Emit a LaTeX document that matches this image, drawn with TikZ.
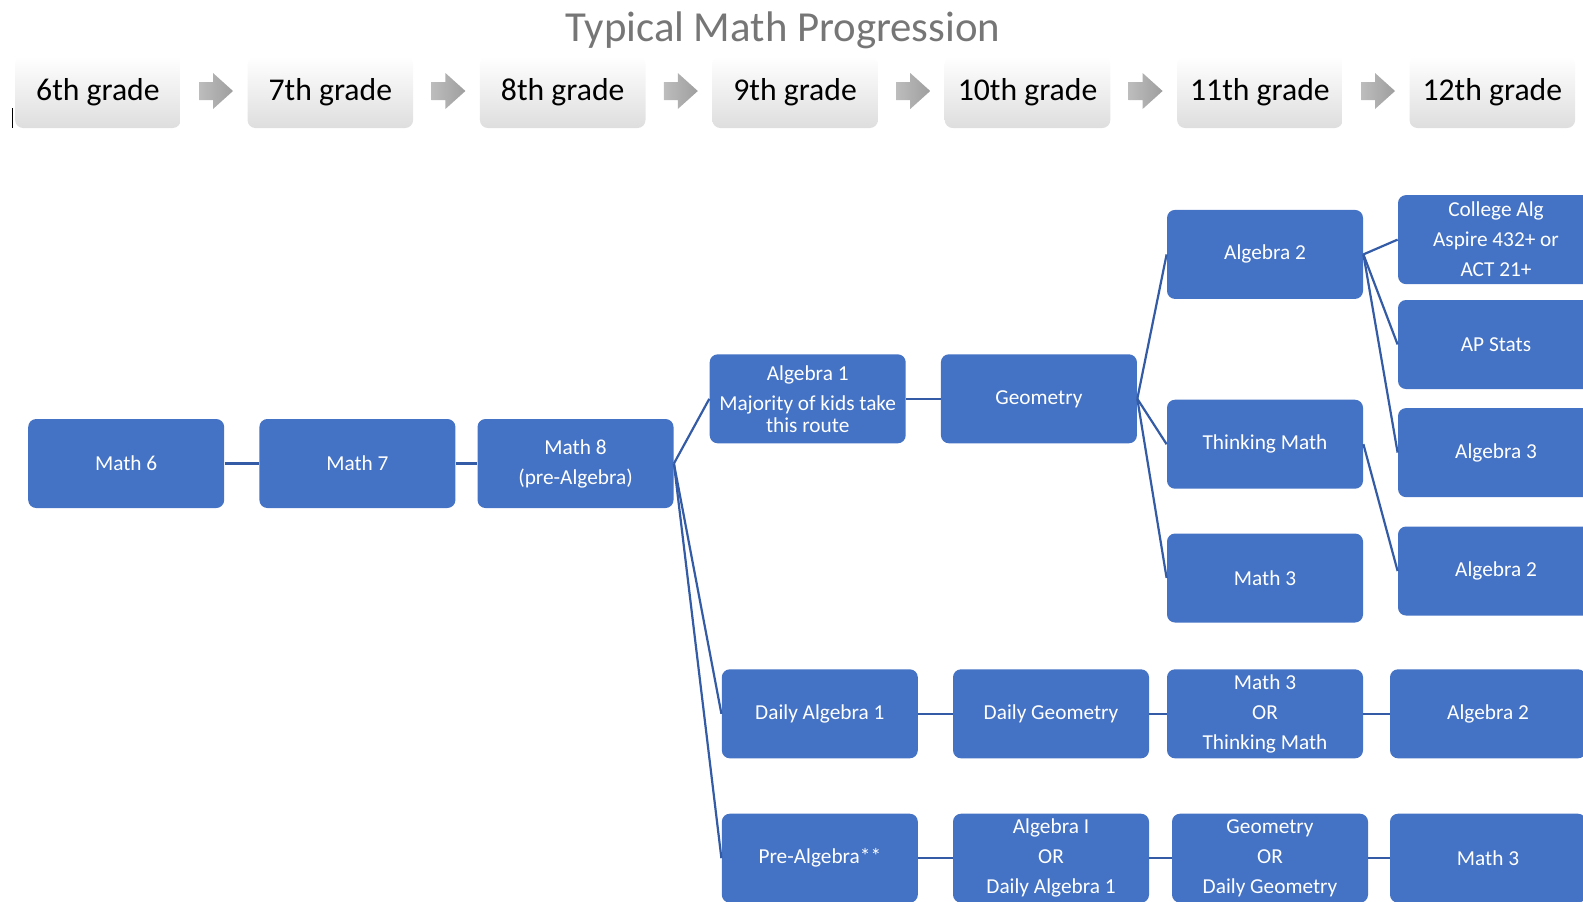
\documentclass[tikz,border=0pt]{standalone}
\usepackage{fontspec}
\setmainfont{Carlito}
\usetikzlibrary{positioning}
\definecolor{cblue}{RGB}{68,114,196}
\definecolor{clink}{RGB}{52,92,166}
\definecolor{ctitle}{RGB}{118,118,118}
\tikzset{cn/.style={fill=cblue,rounded corners=4pt,text=white,align=center,minimum width=98pt,minimum height=44.5pt,inner sep=2pt,font=\fontsize{10.65}{15}\selectfont},
  gr/.style={rounded corners=4pt,top color=white,middle color=white,bottom color=black!13,minimum width=82.8pt,minimum height=36pt,inner sep=0pt,font=\fontsize{15.85}{19}\selectfont},
  ln/.style={draw=clink,line width=1.1pt}}
\newcommand{\gradearrow}[1]{\begin{scope}[shift={(#1,0)}]
  \shade[left color=black!26,right color=black!38] (0,82)--(14,82)--(14,73)--(34,91)--(14,109)--(14,100)--(0,100)--cycle;
\end{scope}}

\begin{document}
\begin{tikzpicture}[x=0.5pt,y=-0.5pt]
    \useasboundingbox (0,0) rectangle (1583,901);
    \clip (0,0) rectangle (1583,901);
    \node[text=ctitle,font=\fontsize{21.4}{25}\selectfont] (title) at (783,30) {Typical Math Progression};
    % grade header
    \node[gr] (g6) at (97.9,92) {6th grade};
    \node[gr] (g7) at (330.3,92) {7th grade};
    \node[gr] (g8) at (562.7,92) {8th grade};
    \node[gr] (g9) at (795.1,92) {9th grade};
    \node[gr] (g10) at (1027.5,92) {10th grade};
    \node[gr] (g11) at (1259.9,92) {11th grade};
    \node[gr] (g12) at (1492.3,92) {12th grade};
    \gradearrow{199}\gradearrow{431.4}\gradearrow{663.8}
    \gradearrow{896.2}\gradearrow{1128.6}\gradearrow{1361}
    \draw[line width=0.5pt] (12,108)--(12,128);
    % courses
    \node[cn] (m6) at (126.2,463.5) {Math 6};
    \node[cn] (m7) at (357.4,463.5) {Math 7};
    \node[cn] (m8) at (575.5,463.5) {Math 8\\(pre-Algebra)};
    \node[cn] (a1) at (807.7,398.8) {Algebra 1\\Majority of kids take\\[-4pt]this route};
    \node[cn] (geo) at (1038.9,398.8) {Geometry};
    \node[cn] (a2) at (1265,254.4) {Algebra 2};
    \node[cn] (tm) at (1265,444.2) {Thinking Math};
    \node[cn] (m3) at (1265,578) {Math 3};
    \node[cn] (ca) at (1496,239.6) {College Alg\\Aspire 432+ or\\ACT 21+};
    \node[cn] (aps) at (1496,344.5) {AP Stats};
    \node[cn] (a3) at (1496,452.6) {Algebra 3};
    \node[cn] (a2b) at (1496,571) {Algebra 2};
    \node[cn] (da1) at (819.8,713.8) {Daily Algebra 1};
    \node[cn] (dg) at (1051,713.8) {Daily Geometry};
    \node[cn] (m3tm) at (1265,713.8) {Math 3\\OR\\Thinking Math};
    \node[cn] (a2c) at (1488,713.8) {Algebra 2};
    \node[cn] (pa) at (819.8,858.2) {Pre-Algebra**};
    \node[cn] (aI) at (1051,858.2) {Algebra I\\OR\\Daily Algebra 1};
    \node[cn] (gor) at (1270,858.2) {Geometry\\OR\\Daily Geometry};
    \node[cn] (m3b) at (1488,858.2) {Math 3};
    % links
    \draw[ln] (m6)--(m7);
    \draw[ln] (m7)--(m8);
    \draw[ln] (m8.east)--(a1.west);
    \draw[ln] (m8.east)--(da1.west);
    \draw[ln] (m8.east)--(pa.west);
    \draw[ln] (a1)--(geo);
    \draw[ln] (geo.east)--(a2.west);
    \draw[ln] (geo.east)--(tm.west);
    \draw[ln] (geo.east)--(m3.west);
    \draw[ln] (a2.east)--(ca.west);
    \draw[ln] (a2.east)--(aps.west);
    \draw[ln] (a2.east)--(a3.west);
    \draw[ln] (tm.east)--(a2b.west);
    \draw[ln] (da1)--(dg);
    \draw[ln] (dg)--(m3tm);
    \draw[ln] (m3tm)--(a2c);
    \draw[ln] (pa)--(aI);
    \draw[ln] (aI)--(gor);
    \draw[ln] (gor)--(m3b);
  \end{tikzpicture}
\end{document}
